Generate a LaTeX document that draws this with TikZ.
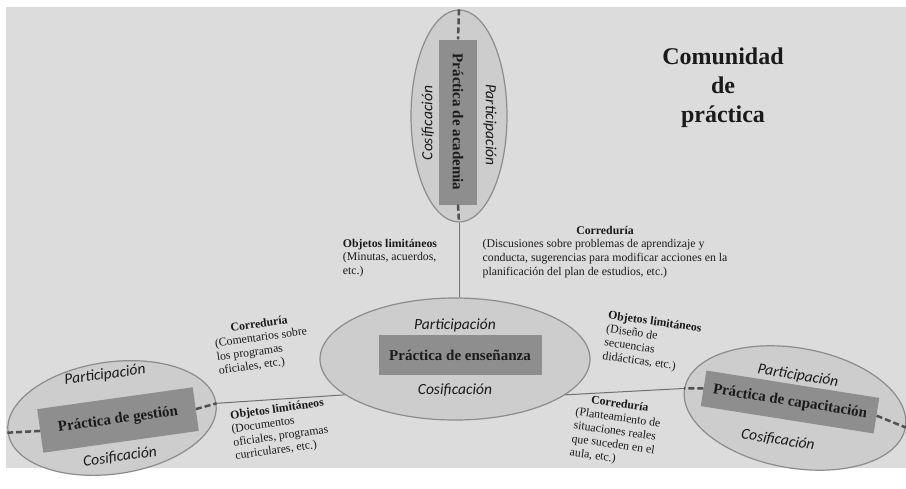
\documentclass[tikz,border=0pt]{standalone}
\usepackage{fontspec}
\setmainfont{Liberation Serif}
\newfontfamily\labfont{Carlito}
\usetikzlibrary{shapes.geometric}
\definecolor{bgc}{HTML}{DCDCDC}
\definecolor{ellfill}{HTML}{CDCDCD}
\definecolor{elldraw}{HTML}{8C8C8C}
\definecolor{rectfill}{HTML}{8E8E8E}
\definecolor{dashc}{HTML}{505050}
\definecolor{linec}{HTML}{707070}
\definecolor{txt}{HTML}{1A1A1A}
\newcommand{\annot}[2]{\begin{tabular}{@{}l@{}}\multicolumn{1}{@{}c@{}}{\bfseries #1}\\ #2\end{tabular}}
\begin{document}
\begin{tikzpicture}[x=1pt,y=-1pt,
  ell/.style={ellipse, fill=ellfill, draw=elldraw, line width=1.2pt, inner sep=0pt},
  rbox/.style={rectangle, fill=rectfill, inner sep=0pt, text=txt, font=\fontsize{15}{17}\selectfont\bfseries},
  lab/.style={inner sep=0pt, text=txt, font=\labfont\itshape\fontsize{15.5}{17}\selectfont},
  ann/.style={inner sep=0pt, text=txt, font=\fontsize{11.8}{13.6}\selectfont},
  dsh/.style={draw=dashc, line width=2.5pt, dash pattern=on 6pt off 3pt},
  conn/.style={draw=linec, line width=1pt}]
\useasboundingbox (0,0) rectangle (906,488);
\fill[white] (0,0) rectangle (906,488);
\fill[bgc] (6,7) rectangle (906,468);

% top ellipse: academia
\node[ell, minimum width=96, minimum height=212] (acad) at (459,116) {};
\node[rbox, rotate=-90, minimum width=165, minimum height=38] (acadr) at (458,122) {Práctica de academia};
\node[lab, rotate=90] (acadc) at (428,123) {Cosificación};
\node[lab, rotate=-90] (acadp) at (490,125) {Participación};
\draw[dsh] (acad.north) -- (acadr.west);
\draw[dsh] (acadr.east) -- (acad.south);

% central ellipse: enseñanza
\node[ell, minimum width=270, minimum height=122] (ens) at (455,359) {};
\node[rbox, minimum width=163, minimum height=40] (ensr) at (460,355) {Práctica de enseñanza};
\node[lab] (ensp) at (455,325) {Participación};
\node[lab] (ensc) at (455,390) {Cosificación};

% left ellipse: gestion
\node[ell, rotate=8, minimum width=210, minimum height=112] (gest) at (112,418) {};
\node[rbox, rotate=8, minimum width=157, minimum height=44] (gestr) at (118,420) {Práctica de gestión};
\node[lab, rotate=8] (gestp) at (105,375) {Participación};
\node[lab, rotate=8] (gestc) at (120,457) {Cosificación};
\draw[dsh] (gestr.west) -- (gest.west);
\draw[dsh] (gestr.east) -- (gest.east);

% right ellipse: capacitacion
\node[ell, rotate=-10, minimum width=224, minimum height=120] (cap) at (795,408) {};
\node[rbox, rotate=-9, minimum width=175, minimum height=36] (capr) at (790,402) {Práctica de capacitación};
\node[lab, rotate=-9] (capp) at (798,376) {Participación};
\node[lab, rotate=-9] (capc) at (778,440) {Cosificación};
\draw[dsh] (capr.west) -- (cap.west);
\draw[dsh] (capr.east) -- (cap.east);

% connectors
\draw[conn] (acad.south) -- (acad.south |- ens.north);
\draw[conn] (gest.east) -- (ens.198);
\draw[conn] (ens.-18) -- (cap.west);

% annotations
\node[ann] (a1) at (390,258) {\annot{Objetos limitáneos}{(Minutas, acuerdos,\\etc.)}};
\node[ann] (a2) at (605,252) {\annot{Correduría}{(Discusiones sobre problemas de aprendizaje y\\conducta, sugerencias para modificar acciones en la\\planificación del plan de estudios, etc.)}};
\node[ann, rotate=8] (a3) at (262,345) {\annot{Correduría}{(Comentarios sobre\\los programas\\oficiales, etc.)}};
\node[ann, rotate=8] (a4) at (280,430) {\annot{Objetos limitáneos}{(Documentos\\oficiales, programas\\curriculares, etc.)}};
\node[ann, rotate=-8] (a5) at (652,343) {\annot{Objetos limitáneos}{(Diseño de\\secuencias\\didácticas, etc.)}};
\node[ann, rotate=-8] (a6) at (616,432) {\annot{Correduría}{(Planteamiento de\\situaciones reales\\que suceden en el\\aula, etc.)}};

% title
\node[inner sep=0pt, align=center, text=txt, font=\fontsize{24}{29}\selectfont\bfseries] (title) at (723,88) {Comunidad\\de\\práctica};
\end{tikzpicture}
\end{document}
